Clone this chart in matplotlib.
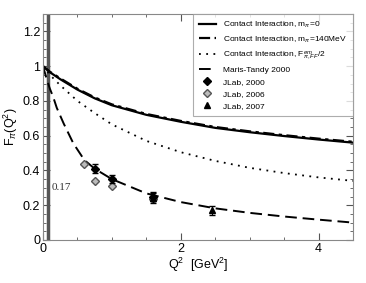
import numpy as np
import matplotlib.pyplot as plt
from matplotlib.lines import Line2D
from matplotlib.ticker import MultipleLocator, FormatStrFormatter

plt.rcParams['font.family'] = ['Liberation Sans', 'DejaVu Sans']
plt.rcParams['mathtext.fontset'] = 'custom'
plt.rcParams['mathtext.rm'] = 'Liberation Sans'
plt.rcParams['mathtext.it'] = 'Liberation Sans:italic'

# curves
q2_ci = [0, 0.1, 0.25, 0.5, 0.75, 1.0, 1.5, 2.0, 2.5, 3.0, 3.5, 4.0, 4.5]
f_ci0 = [1.0, 0.965, 0.925, 0.865, 0.815, 0.775, 0.72, 0.68, 0.645, 0.62, 0.598, 0.578, 0.56]
f_ci140 = [1.0, 0.968, 0.93, 0.87, 0.82, 0.78, 0.725, 0.685, 0.65, 0.625, 0.603, 0.583, 0.565]
f_ciff = [1.0, 0.95, 0.89, 0.80, 0.73, 0.665, 0.57, 0.505, 0.455, 0.415, 0.385, 0.36, 0.34]

q2_mt = [0, 0.05, 0.1, 0.15, 0.2, 0.3, 0.44, 0.6, 0.75, 1.0, 1.5, 2.0, 2.5, 3.0, 3.5, 4.0, 4.5]
f_mt = [1.0, 0.93, 0.87, 0.82, 0.76, 0.67, 0.556, 0.46, 0.41, 0.35, 0.268, 0.218, 0.182, 0.156, 0.135, 0.117, 0.10]

# data
q2_2000 = [0.75, 1.0, 1.6]
f_2000 = [0.41, 0.35, 0.25]
e_2000 = [0.025, 0.022, 0.025]
q2_2006 = [0.6, 0.75, 1.0, 1.6]
f_2006 = [0.437, 0.34, 0.31, 0.235]
q2_2007 = [1.6, 2.45]
f_2007 = [0.243, 0.17]
e_2007 = [0.03, 0.025]

fig = plt.figure(figsize=(3.66, 2.83), dpi=100)
ax = fig.add_axes([0.1175, 0.152, 0.847, 0.7985])

ax.axvline(0.07, color='#555555', lw=2.5, zorder=1)
l1, = ax.plot(q2_ci, f_ci0, color='black', lw=1.6)
l2, = ax.plot(q2_ci, f_ci140, color='black', lw=1.6, dashes=[5, 2, 1.5, 2])
l3, = ax.plot(q2_ci, f_ciff, color='black', lw=1.3, linestyle=(0, (1, 3)))
l4, = ax.plot(q2_mt, f_mt, color='black', lw=1.4, dashes=[6, 3])

ax.errorbar(q2_2000, f_2000, yerr=e_2000, fmt='D', color='black', ms=4.5,
            capsize=2, elinewidth=0.8, zorder=4)
ax.plot(q2_2006, f_2006, 'D', mfc='#bbbbbb', mec='#555555', ms=4.5, zorder=3)
ax.errorbar(q2_2007, f_2007, yerr=e_2007, fmt='^', color='black', ms=5,
            capsize=2, elinewidth=0.8, zorder=4)

ax.text(0.13, 0.29, '0.17', fontsize=8, family='Liberation Serif', color='#333333')

ax.set_xlim(0, 4.5)
ax.set_ylim(0, 1.3)
ax.xaxis.set_major_locator(MultipleLocator(2))
ax.xaxis.set_minor_locator(MultipleLocator(0.5))
ax.yaxis.set_major_locator(MultipleLocator(0.2))
ax.yaxis.set_minor_locator(MultipleLocator(0.05))
ax.yaxis.set_major_formatter(FormatStrFormatter('%g'))
ax.xaxis.set_major_formatter(FormatStrFormatter('%g'))
ax.tick_params(which='both', direction='in', top=True, right=True, labelsize=9,
               color='#555555', pad=2)
ax.tick_params(which='major', length=5)
ax.tick_params(which='minor', length=2.5)
for s in ax.spines.values():
    s.set_color('#888888')
    s.set_linewidth(0.8)

ax.set_xlabel(r'Q$^2$  [GeV$^2$]', fontsize=9, labelpad=1)
ax.set_ylabel(r'F$_\pi$(Q$^2$)', fontsize=9, labelpad=2)

h5 = Line2D([], [], ls='none', marker='D', color='black', ms=4)
h6 = Line2D([], [], ls='none', marker='D', mfc='#bbbbbb', mec='#555555', ms=4)
h7 = Line2D([], [], ls='none', marker='^', color='black', ms=4.5)
labels = [r'Contact Interaction, m$_\pi$=0',
          r'Contact Interaction, m$_\pi$=140MeV',
          r'Contact Interaction, F$^{em}_{\pi,FF}$/2',
          'Maris-Tandy 2000', 'JLab, 2000', 'JLab, 2006', 'JLab, 2007']
leg = ax.legend([l1, l2, l3, l4, h5, h6, h7], labels, loc='upper right',
                fontsize=6, frameon=True, fancybox=False,
                borderaxespad=0, handlelength=2.0, labelspacing=0.52,
                borderpad=0.7, handletextpad=0.9)
leg.get_frame().set_edgecolor('#999999')
leg.get_frame().set_linewidth(0.8)

fig.savefig('out.png', dpi=100)
